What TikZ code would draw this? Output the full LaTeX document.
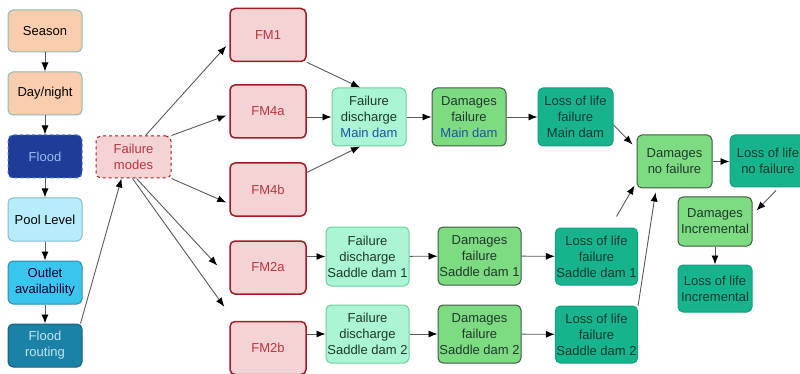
\documentclass[tikz,border=0pt]{standalone}
\usepackage{fontspec}
\setmainfont{Liberation Sans}
\usetikzlibrary{positioning,arrows.meta}

\definecolor{peach}{HTML}{F9CDAD}
\definecolor{peachline}{HTML}{8CBAB4}
\definecolor{floodfill}{HTML}{1F3C98}
\definecolor{floodline}{HTML}{4C7CCF}
\definecolor{floodtext}{HTML}{9BBFEF}
\definecolor{poolfill}{HTML}{B7EDFB}
\definecolor{poolline}{HTML}{7FBFCF}
\definecolor{outletfill}{HTML}{39C5EE}
\definecolor{outletline}{HTML}{2A8FB0}
\definecolor{routefill}{HTML}{1A82A6}
\definecolor{routeline}{HTML}{15607A}
\definecolor{routetext}{HTML}{C0E8F5}
\definecolor{fmfill}{HTML}{F3D3D3}
\definecolor{fmline}{HTML}{A01C26}
\definecolor{fmtext}{HTML}{C0343F}
\definecolor{fdfill}{HTML}{A9F5D4}
\definecolor{fdline}{HTML}{6FCF9F}
\definecolor{dmgfill}{HTML}{7DDB82}
\definecolor{dmgline}{HTML}{3E5A40}
\definecolor{lolfill}{HTML}{16B38C}
\definecolor{lolline}{HTML}{12A080}
\definecolor{loltext}{HTML}{0F3D30}
\definecolor{darktext}{HTML}{1E3A2A}
\definecolor{damblue}{HTML}{1F52A8}
\definecolor{linegray}{HTML}{5A5A5A}

\begin{document}
\begin{tikzpicture}[x=1pt,y=-1pt,
    box/.style={draw,rounded corners=5pt,align=center,line width=1pt,inner sep=1pt,
      font=\fontsize{13}{16}\selectfont},
    inbox/.style={box,minimum width=74pt,minimum height=43pt},
    fmbox/.style={box,fill=fmfill,draw=fmline,text=fmtext,line width=1.5pt,
      minimum width=76pt,minimum height=53pt},
    fdbox/.style={box,fill=fdfill,draw=fdline,text=darktext},
    dmgbox/.style={box,fill=dmgfill,draw=dmgline,text=darktext},
    lolbox/.style={box,fill=lolfill,draw=lolline,text=loltext},
    arr/.style={draw=linegray,line width=0.9pt,-{Latex[length=9pt,width=7pt,color=black]}}]
  \useasboundingbox (0,0) rectangle (800,374);

  \node (season) [inbox,fill=peach,draw=peachline,minimum height=42pt] at (45,31) {Season};
  \node (daynight) [inbox,fill=peach,draw=peachline,below=19pt of season] {Day/night};
  \node (flood) [inbox,fill=floodfill,draw=floodline,text=floodtext,dashed,below=19pt of daynight] {Flood};
  \node (pool) [inbox,fill=poolfill,draw=poolline,below=19pt of flood] {Pool Level};
  \node (outlet) [inbox,fill=outletfill,draw=outletline,text=black!80!blue,below=19pt of pool] {Outlet\\availability};
  \node (routing) [inbox,fill=routefill,draw=routeline,text=routetext,below=19pt of outlet] {Flood\\routing};

  \node (modes) [box,fill=fmfill,draw=fmline,text=fmtext,dashed,
    minimum width=75pt,minimum height=42pt] at (133.5,157) {Failure\\modes};

  \node (fm1) [fmbox] at (268,35) {FM1};
  \node (fm4a) [fmbox] at (268,111.5) {FM4a};
  \node (fm4b) [fmbox] at (268,189.5) {FM4b};
  \node (fm2a) [fmbox] at (268,267.5) {FM2a};
  \node (fm2b) [fmbox] at (268,348) {FM2b};

  \node (fdmain) [fdbox,minimum width=74pt,minimum height=58pt] at (369,117)
    {Failure\\discharge\\\textcolor{damblue}{Main dam}};
  \node (dmgmain) [dmgbox,minimum width=74pt,minimum height=58pt] at (469,117)
    {Damages\\failure\\\textcolor{damblue}{Main dam}};
  \node (lolmain) [lolbox,minimum width=75pt,minimum height=58pt] at (575.5,117)
    {Loss of life\\failure\\Main dam};

  \node (fdsd1) [fdbox,minimum width=83pt,minimum height=59pt] at (367.5,256.5)
    {Failure\\discharge\\Saddle dam 1};
  \node (fdsd2) [fdbox,minimum width=83pt,minimum height=58pt] at (367.5,334)
    {Failure\\discharge\\Saddle dam 2};
  \node (dmgsd1) [dmgbox,minimum width=83pt,minimum height=58pt] at (479.5,256)
    {Damages\\failure\\Saddle dam 1};
  \node (dmgsd2) [dmgbox,minimum width=83pt,minimum height=58pt] at (479.5,334)
    {Damages\\failure\\Saddle dam 2};
  \node (lolsd1) [lolbox,minimum width=81pt,minimum height=57pt] at (596.5,256.5)
    {Loss of life\\failure\\Saddle dam 1};
  \node (lolsd2) [lolbox,minimum width=81pt,minimum height=57pt] at (596.5,334.5)
    {Loss of life\\failure\\Saddle dam 2};

  \node (dmgno) [dmgbox,minimum width=75pt,minimum height=53pt] at (674.5,161.5)
    {Damages\\no failure};
  \node (lolno) [lolbox,minimum width=76pt,minimum height=52pt] at (768,161)
    {Loss of life\\no failure};
  \node (dmgincr) [dmgbox,minimum width=74pt,minimum height=49pt] at (715,221.5)
    {Damages\\Incremental};
  \node (lolincr) [lolbox,minimum width=74pt,minimum height=47pt] at (715,288.5)
    {Loss of life\\Incremental};

  \draw[arr] (season) -- (daynight);
  \draw[arr] (daynight) -- (flood);
  \draw[arr] (flood) -- (pool);
  \draw[arr] (pool) -- (outlet);
  \draw[arr] (outlet) -- (routing);
  \draw[arr] ([xshift=-2pt]routing.north east) -- ([xshift=-12pt]modes.south);

  \draw[arr] ([xshift=12pt]modes.north) -- ([xshift=-3pt,yshift=-11pt]fm1.west);
  \draw[arr] (modes.north east) -- ([xshift=-3pt,yshift=-4pt]fm4a.west);
  \draw[arr] (modes.south east) -- ([xshift=-3pt,yshift=-13pt]fm4b.west);
  \draw[arr] ([xshift=3pt]modes.south) -- ([xshift=-12pt,yshift=2pt]fm2a.west);
  \draw[arr] ([xshift=-1pt]modes.south) -- ([xshift=-5pt,yshift=14pt]fm2b.north west);

  \draw[arr] (fm1.south east) -- ([xshift=-9pt]fdmain.north);
  \draw[arr] (fm4a.east |- fdmain.west) -- (fdmain.west);
  \draw[arr] ([yshift=17pt]fm4b.east) -- ([xshift=-9pt]fdmain.south);
  \draw[arr] (fdmain) -- (dmgmain);
  \draw[arr] (dmgmain) -- (lolmain);

  \draw[arr] (fm2a.east |- fdsd1.west) -- (fdsd1.west);
  \draw[arr] (fdsd1) -- (dmgsd1);
  \draw[arr] (dmgsd1) -- (lolsd1);
  \draw[arr] (fm2b.east |- fdsd2.west) -- (fdsd2.west);
  \draw[arr] (fdsd2) -- (dmgsd2);
  \draw[arr] (dmgsd2) -- (lolsd2);

  \draw[arr] ([yshift=-8pt]lolmain.east) -- ([xshift=-4pt,yshift=17pt]dmgno.west);
  \draw[arr] ([xshift=20pt,yshift=11pt]lolsd1.north) -- ([xshift=-2pt,yshift=3pt]dmgno.south west);
  \draw[arr] (lolsd2.north east) -- ([xshift=-19pt,yshift=-4pt]dmgno.south);
  \draw[arr] (dmgno.east) -- (dmgno.east -| lolno.west);
  \draw[arr] ([xshift=8pt,yshift=-3pt]lolno.south) -- ([xshift=4pt,yshift=11pt]dmgincr.east);
  \draw[arr] (dmgincr) -- (lolincr);
\end{tikzpicture}
\end{document}
